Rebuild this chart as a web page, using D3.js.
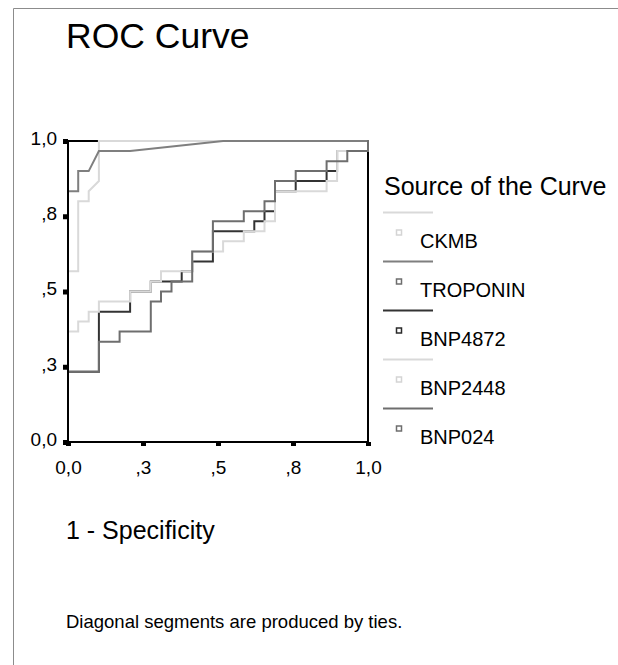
<!DOCTYPE html>
<html>
<head>
<meta charset="utf-8">
<script src="https://cdn.jsdelivr.net/npm/d3@7"></script>
<style>
  html, body { margin: 0; padding: 0; background: #fff; }
  svg { display: block; }
  text { font-family: "Liberation Sans", Arial, sans-serif; fill: #000; }
</style>
</head>
<body>
<div id="chart"></div>
<script>
// ---- data ----
const seriesNames = ["CKMB", "TROPONIN", "BNP4872", "BNP2448", "BNP024"];

const ckmbX = [0, 0, .034, .034, .069, .069, .103, .103, 1];
const ckmbY = [0, .567, .567, .8, .8, .833, .867, 1, 1];

const troponinX = [0, 0, .034, .034, .069, .103, .207, .517, 1];
const troponinY = [0, .833, .833, .9, .9, .967, .967, 1, 1];

const bnp4872X = [0, 0, .103, .103, .207, .207, .276, .276, .379, .379, .414, .414, .483, .483, .621, .621, .655, .655, .690, .690, .759, .759, .862, .862, .897, .897, 1, 1];
const bnp4872Y = [0, .233, .233, .433, .433, .5, .5, .533, .533, .567, .567, .6, .6, .7, .7, .733, .733, .767, .767, .833, .833, .867, .867, .9, .9, .967, .967, 1];

const bnp2448X = [0, 0, .034, .034, .069, .069, .103, .103, .207, .207, .276, .276, .310, .310, .414, .414, .517, .517, .586, .586, .655, .655, .690, .690, .862, .862, .897, .897, 1, 1];
const bnp2448Y = [0, .367, .367, .4, .4, .433, .433, .467, .467, .5, .5, .533, .533, .567, .567, .633, .633, .667, .667, .7, .7, .733, .733, .833, .833, .867, .867, .967, .967, 1];

const bnp024X = [0, 0, .103, .103, .172, .172, .276, .276, .310, .310, .345, .345, .414, .414, .483, .483, .586, .586, .655, .655, .690, .690, .759, .759, .862, .862, .931, .931, 1, 1];
const bnp024Y = [0, .233, .233, .333, .333, .367, .367, .467, .467, .5, .5, .533, .533, .633, .633, .733, .733, .767, .767, .8, .8, .867, .867, .9, .9, .933, .933, .967, .967, 1];

const tickValues = [0, 0.25, 0.5, 0.75, 1];
const tickLabels = ["0,0", ",3", ",5", ",8", "1,0"];

const titleText = "ROC Curve";
const xTitle = "1 - Specificity";
const legendTitle = "Source of the Curve";
const noteText = "Diagonal segments are produced by ties.";

// ---- styles ----
const colors = ["#d9d9d9", "#7f7f7f", "#333333", "#d9d9d9", "#6e6e6e"];
const swatchColors = ["#d4d4d4", "#6e6e6e", "#2a2a2a", "#d4d4d4", "#6e6e6e"];

const W = 618, H = 665;
const svg = d3.select("#chart").append("svg").attr("width", W).attr("height", H);

// outer frame (top + left)
svg.append("line").attr("x1", 13.5).attr("y1", 8.5).attr("x2", W).attr("y2", 8.5)
  .attr("stroke", "#8c8c8c").attr("stroke-width", 1);
svg.append("line").attr("x1", 13.5).attr("y1", 8.5).attr("x2", 13.5).attr("y2", H)
  .attr("stroke", "#8c8c8c").attr("stroke-width", 1);

const x = d3.scaleLinear().domain([0, 1]).range([68, 368]);
const y = d3.scaleLinear().domain([0, 1]).range([442, 141]);

// plot frame top/right (under curves)
svg.append("path")
  .attr("d", `M${x(0)},${y(1)}H${x(1)}V${y(0)}`)
  .attr("fill", "none").attr("stroke", "#000").attr("stroke-width", 2);

const series = [
  { name: seriesNames[0], xs: ckmbX, ys: ckmbY },
  { name: seriesNames[1], xs: troponinX, ys: troponinY },
  { name: seriesNames[2], xs: bnp4872X, ys: bnp4872Y },
  { name: seriesNames[3], xs: bnp2448X, ys: bnp2448Y },
  { name: seriesNames[4], xs: bnp024X, ys: bnp024Y }
];

const line = d3.line().x(d => x(d[0])).y(d => y(d[1]));

series.forEach((s, i) => {
  const pts = s.xs.map((v, j) => [v, s.ys[j]]);
  svg.append("path")
    .attr("d", line(pts))
    .attr("fill", "none")
    .attr("stroke", colors[i])
    .attr("stroke-width", 2)
    .attr("stroke-linejoin", "miter")
    .attr("stroke-linecap", "square");
});

// axes
const xAxis = d3.axisBottom(x).tickValues(tickValues)
  .tickFormat((d, i) => tickLabels[i]).tickSize(4).tickPadding(15);
const yAxis = d3.axisLeft(y).tickValues(tickValues)
  .tickFormat((d, i) => tickLabels[i]).tickSize(5).tickPadding(6);

const gx = svg.append("g").attr("transform", `translate(0,${y(0)})`).call(xAxis);
const gy = svg.append("g").attr("transform", `translate(${x(0)},0)`).call(yAxis);

[gx, gy].forEach(g => {
  g.select(".domain").attr("stroke", "#000").attr("stroke-width", 2);
  g.selectAll(".tick line").attr("stroke", "#000").attr("stroke-width", 5);
  g.selectAll(".tick text")
    .style("font-family", '"Liberation Sans", Arial, sans-serif')
    .style("font-size", "19px").attr("fill", "#000");
});
gx.select(".domain").attr("d", `M${x(0)-1},0H${x(1)+1}`);
gy.select(".domain").attr("d", `M0,${y(0)+1}V${y(1)-1}`);
gy.selectAll(".tick text").attr("dy", "0.18em");

// titles
svg.append("text").attr("x", 66).attr("y", 48).style("font-size", "35.5px").text(titleText);
svg.append("text").attr("x", 66).attr("y", 539).style("font-size", "25px").text(xTitle);
svg.append("text").attr("x", 66).attr("y", 628).style("font-size", "18.5px").text(noteText);

// legend
const lg = svg.append("g");
lg.append("text").attr("x", 384).attr("y", 195).style("font-size", "25px").text(legendTitle);
const legendTop = 212.5, step = 49;
seriesNames.forEach((name, i) => {
  const ly = legendTop + i * step;
  lg.append("line").attr("x1", 383).attr("x2", 433).attr("y1", ly).attr("y2", ly)
    .attr("stroke", colors[i]).attr("stroke-width", 2);
  lg.append("rect").attr("x", 396.5).attr("y", ly + 17.5).attr("width", 5).attr("height", 5)
    .attr("fill", "none").attr("stroke", swatchColors[i]).attr("stroke-width", 1.5);
  lg.append("text").attr("x", 420).attr("y", ly + 35).style("font-size", "20px").text(name);
});
</script>
</body>
</html>
